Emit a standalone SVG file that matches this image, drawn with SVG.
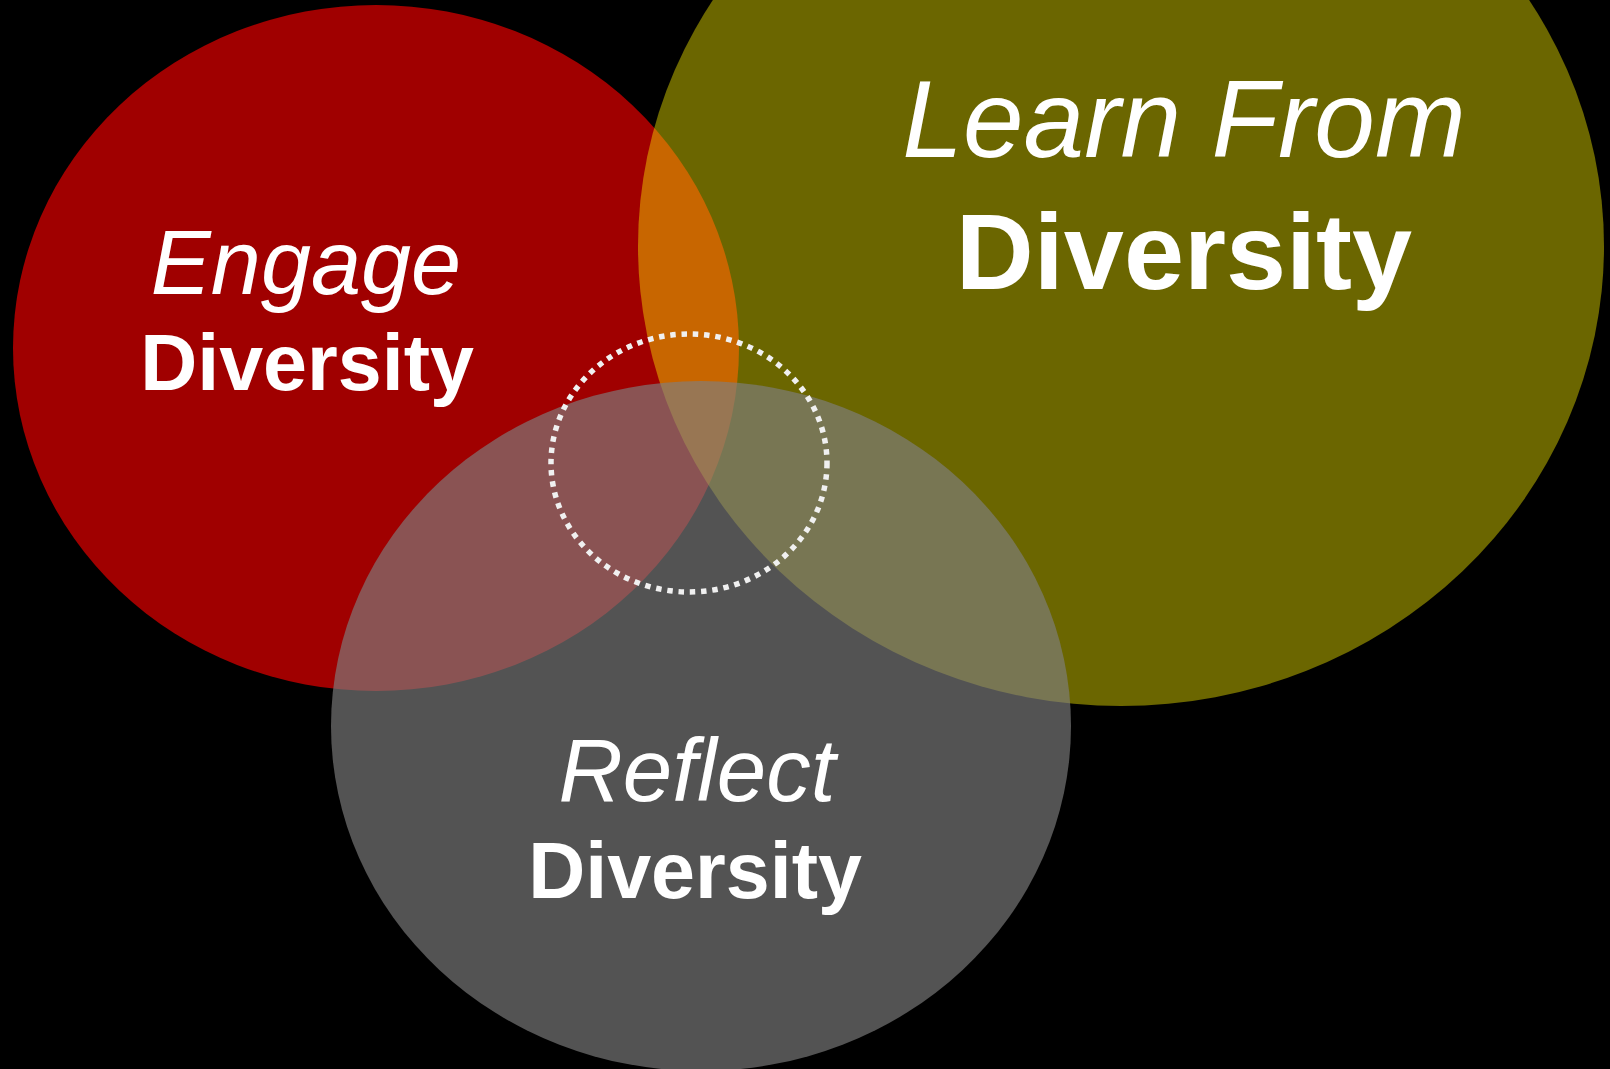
<svg xmlns="http://www.w3.org/2000/svg" width="1610" height="1069" viewBox="0 0 1610 1069">
  <style>
    .lbl { fill: #ffffff; font-family: "Liberation Sans", Arial, sans-serif; text-anchor: middle; }
    .it { font-style: italic; }
    .bd { font-weight: bold; }
  </style>
  <rect width="1610" height="1069" fill="#000000"/>
  <g id="engage">
    <ellipse cx="376" cy="348" rx="363" ry="343" fill="#a00000"/>
  </g>
  <g id="learn">
    <ellipse cx="1121" cy="246" rx="483" ry="460" fill="#fff300" fill-opacity="0.42"/>
  </g>
  <g id="reflect">
    <ellipse cx="701" cy="726" rx="370" ry="345" fill="#7e7e7e" fill-opacity="0.656"/>
  </g>
  <g id="core">
    <ellipse cx="689" cy="463" rx="138" ry="129" fill="none" stroke="#f0f0f0" stroke-width="5.5" stroke-dasharray="5.5 5.8"/>
  </g>
  <g id="labels">
    <text class="lbl it" x="306" y="294" font-size="90">Engage</text>
    <text class="lbl bd" x="307" y="390" font-size="79">Diversity</text>
    <text class="lbl it" x="1184" y="157" font-size="109">Learn From</text>
    <text class="lbl bd" x="1184" y="289" font-size="108">Diversity</text>
    <text class="lbl it" x="697" y="801" font-size="89">Reflect</text>
    <text class="lbl bd" x="695" y="898" font-size="79">Diversity</text>
  </g>
</svg>
